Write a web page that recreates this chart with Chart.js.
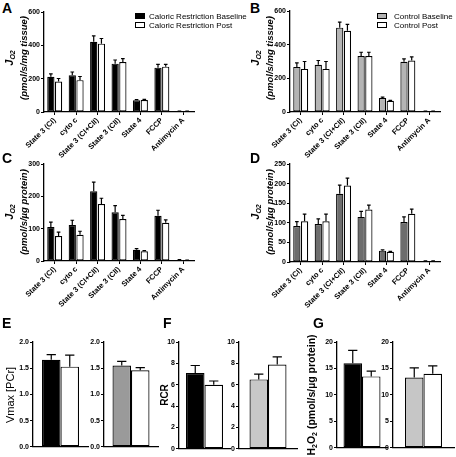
<!DOCTYPE html>
<html>
<head>
<meta charset="utf-8">
<script src="https://cdn.jsdelivr.net/npm/chart.js@4.4.0/dist/chart.umd.min.js"></script>
<style>
  body { margin: 0; width: 456px; height: 457px; position: relative; overflow: hidden; background: #fff;
         font-family: "Liberation Sans", Arial, sans-serif; color: #000; }
  .box { position: absolute; }
  .letter { position: absolute; font-weight: bold; font-size: 14px; line-height: 14px; }
  .ytitle { position: absolute; transform: translate(-50%, -50%) rotate(-90deg); white-space: nowrap;
            text-align: center; font-weight: bold; }
  .ytitle sub { font-size: 7px; vertical-align: -2px; }
  .leg { position: absolute; font-size: 8px; line-height: 9px; white-space: nowrap; }
  .legbox { position: absolute; width: 10px; height: 6px; box-sizing: border-box; border: 1px solid #000; }
</style>
</head>
<body>
<script>
// categories for the oxygen flux panels
const states = ['State 3 (CI)', 'cyto c', 'State 3 (CI+CII)', 'State 3 (CII)', 'State 4', 'FCCP', 'Antimycin A'];

// A - caloric restriction, per mg tissue
const crTissueBase = [211, 221, 421, 290, 70, 266, 5];
const crTissueBaseErr = [18, 19, 36, 22, 4, 20, 1];
const crTissuePost = [183, 191, 410, 300, 72, 272, 5];
const crTissuePostErr = [18, 22, 31, 20, 4, 14, 1];

// B - control, per mg tissue
const ctlTissueBase = [268, 280, 501, 333, 83, 298, 5];
const ctlTissueBaseErr = [24, 26, 33, 22, 5, 18, 1];
const ctlTissuePost = [256, 256, 483, 333, 67, 306, 5];
const ctlTissuePostErr = [44, 44, 38, 22, 2, 22, 1];

// C - caloric restriction, per ug protein
const crProtBase = [105, 111, 216, 151, 35, 140, 3];
const crProtBaseErr = [15, 15, 28, 20, 3, 17, 1];
const crProtPost = [77, 81, 176, 130, 30, 118, 2];
const crProtPostErr = [12, 11, 18, 11, 2, 9, 1];

// D - control, per ug protein
const ctlProtBase = [92, 97, 174, 115, 29, 102, 2];
const ctlProtBaseErr = [11, 13, 22, 14, 2, 13, 1];
const ctlProtPost = [104, 104, 195, 134, 26, 123, 2];
const ctlProtPostErr = [18, 18, 19, 11, 1, 12, 1];

// E, F, G - [baseline, post]
const vmaxCR = [1.66, 1.53], vmaxCRErr = [0.10, 0.22];
const vmaxCtl = [1.55, 1.46], vmaxCtlErr = [0.08, 0.05];
const rcrCR = [7.1, 6.0], rcrCRErr = [0.7, 0.35];
const rcrCtl = [6.5, 7.9], rcrCtlErr = [0.5, 0.7];
const h2o2CR = [16.0, 13.5], h2o2CRErr = [2.4, 1.0];
const h2o2Ctl = [13.3, 14.0], h2o2CtlErr = [1.8, 1.5];

Chart.defaults.font.family = '"Liberation Sans", Arial, sans-serif';
Chart.defaults.color = '#000';

// draws the upward SEM bars on top of each bar
const errorBars = {
  id: 'errorBars',
  afterDatasetsDraw(chart) {
    const ctx = chart.ctx;
    const y = chart.scales.y;
    chart.data.datasets.forEach((ds, i) => {
      if (!ds.errors) return;
      chart.getDatasetMeta(i).data.forEach((bar, j) => {
        const top = y.getPixelForValue(ds.data[j] + ds.errors[j]);
        const half = bar.width / 4;
        ctx.save();
        ctx.strokeStyle = '#000';
        ctx.lineWidth = 1.2;
        ctx.beginPath();
        ctx.moveTo(bar.x, bar.y);
        ctx.lineTo(bar.x, top);
        ctx.moveTo(bar.x - half, top);
        ctx.lineTo(bar.x + half, top);
        ctx.stroke();
        ctx.restore();
      });
    });
  }
};

function barSet(data, errors, fill) {
  return { data, errors, backgroundColor: fill, borderColor: '#000', borderWidth: 1.2, borderSkipped: false };
}

// g: chart area in page pixels (L, R, T, B), xh: room under the axis
function panel(g, labels, datasets, yopt, xopt) {
  const yw = 22, pt = 6, pr = 2;
  const w = g.R - g.L + yw + pr, h = g.B - g.T + pt + g.xh;
  const div = document.createElement('div');
  div.className = 'box';
  div.style.left = (g.L - yw) + 'px';
  div.style.top = (g.T - pt) + 'px';
  const cv = document.createElement('canvas');
  cv.width = w; cv.height = h;
  cv.style.width = w + 'px'; cv.style.height = h + 'px';
  div.appendChild(cv);
  document.body.appendChild(div);

  new Chart(cv, {
    type: 'bar',
    data: { labels, datasets },
    options: {
      responsive: false,
      animation: false,
      devicePixelRatio: 1,
      layout: { padding: { left: 0, top: pt, right: pr, bottom: 0 } },
      plugins: { legend: { display: false }, tooltip: { enabled: false } },
      categoryPercentage: xopt.cat,
      barPercentage: xopt.bar,
      scales: {
        x: {
          offset: true,
          grid: { display: xopt.ticks, offset: false, drawOnChartArea: false, tickLength: 3, color: '#000', lineWidth: 1 },
          border: { display: true, color: '#000', width: 1.3 },
          ticks: { display: xopt.ticks, font: { size: 7.5, weight: 'bold' }, color: '#000',
                   minRotation: 45, maxRotation: 45, autoSkip: false, padding: 1 },
          afterFit: s => { s.height = g.xh; }
        },
        y: {
          min: 0, max: yopt.max,
          grid: { drawOnChartArea: false, tickLength: 3, color: '#000', lineWidth: 1 },
          border: { display: true, color: '#000', width: 1.3 },
          ticks: { stepSize: yopt.step, font: { size: 7, weight: 'bold' }, color: '#000', padding: 1,
                   callback: yopt.fmt || (v => v) },
          afterFit: s => { s.width = yw; }
        }
      }
    },
    plugins: [errorBars]
  });
}

const topX = { cat: 0.72, bar: 0.94, ticks: true };

panel({ L: 44, R: 194, T: 12, B: 112, xh: 60 }, states,
  [barSet(crTissueBase, crTissueBaseErr, '#000'), barSet(crTissuePost, crTissuePostErr, '#fff')],
  { max: 600, step: 200 }, topX);
panel({ L: 290, R: 440, T: 11, B: 112, xh: 60 }, states,
  [barSet(ctlTissueBase, ctlTissueBaseErr, '#b4b4b4'), barSet(ctlTissuePost, ctlTissuePostErr, '#fff')],
  { max: 600, step: 200 }, topX);
panel({ L: 44, R: 194, T: 164, B: 261, xh: 60 }, states,
  [barSet(crProtBase, crProtBaseErr, '#000'), barSet(crProtPost, crProtPostErr, '#fff')],
  { max: 300, step: 100 }, topX);
panel({ L: 290, R: 440, T: 164, B: 262, xh: 60 }, states,
  [barSet(ctlProtBase, ctlProtBaseErr, '#6d6d6d'), barSet(ctlProtPost, ctlProtPostErr, '#fff')],
  { max: 250, step: 50 }, topX);

// small two-bar panels
function pair(g, vals, errs, fill, yopt) {
  panel(g, [''], [barSet([vals[0]], [errs[0]], fill), barSet([vals[1]], [errs[1]], '#fff')],
    yopt, { cat: 37 / (g.R - g.L), bar: 1, ticks: false });
}
const fmt1 = v => v.toFixed(1);
pair({ L: 33, R: 88, T: 342, B: 448, xh: 4 }, vmaxCR, vmaxCRErr, '#000', { max: 2, step: 0.5, fmt: fmt1 });
pair({ L: 104, R: 158, T: 342, B: 448, xh: 4 }, vmaxCtl, vmaxCtlErr, '#9a9a9a', { max: 2, step: 0.5, fmt: fmt1 });
pair({ L: 179, R: 230, T: 342, B: 450, xh: 4 }, rcrCR, rcrCRErr, '#000', { max: 10, step: 2 });
pair({ L: 239, R: 297, T: 342, B: 450, xh: 4 }, rcrCtl, rcrCtlErr, '#c8c8c8', { max: 10, step: 2 });
pair({ L: 337, R: 387, T: 342, B: 449, xh: 4 }, h2o2CR, h2o2CRErr, '#000', { max: 20, step: 5 });
pair({ L: 393, R: 454, T: 342, B: 449, xh: 4 }, h2o2Ctl, h2o2CtlErr, '#c6c6c6', { max: 20, step: 5 });

// text overlays: panel letters, axis titles, legends
function add(cls, x, y, html, style) {
  const d = document.createElement('div');
  d.className = cls;
  d.style.left = x + 'px';
  d.style.top = y + 'px';
  d.innerHTML = html;
  if (style) Object.assign(d.style, style);
  document.body.appendChild(d);
  return d;
}
[['A', 2, 1], ['B', 250, 1], ['C', 2, 151], ['D', 250, 151], ['E', 2, 316], ['F', 163, 316], ['G', 313, 316]]
  .forEach(([t, x, y]) => add('letter', x, y, t));

const jTitle = unit => '<span style="font-size:11px">J<sub>O2</sub></span><br>(pmol/s/' + unit + ')';
const jStyle = { fontStyle: 'italic', fontSize: '9.5px', lineHeight: '11px' };
add('ytitle', 16, 58, jTitle('mg tissue'), jStyle);
add('ytitle', 262, 58, jTitle('mg tissue'), jStyle);
add('ytitle', 16, 212, jTitle('µg protein'), jStyle);
add('ytitle', 262, 212, jTitle('µg protein'), jStyle);
add('ytitle', 10, 395, 'Vmax [PCr]', { fontWeight: 'normal', fontSize: '11px' });
add('ytitle', 164, 395, 'RCR', { fontSize: '10px' });
add('ytitle', 311, 395, 'H<sub>2</sub>O<sub>2</sub> (pmol/s/µg protein)', { fontSize: '10.5px' });

add('legbox', 135, 13, '', { background: '#000' });
add('legbox', 135, 22, '', { background: '#fff' });
add('leg', 149, 12, 'Caloric Restriction Baseline');
add('leg', 149, 21, 'Caloric Restriction Post');
add('legbox', 377, 13, '', { background: '#b4b4b4' });
add('legbox', 377, 22, '', { background: '#fff' });
add('leg', 394, 12, 'Control Baseline');
add('leg', 394, 21, 'Control Post');
</script>
</body>
</html>
